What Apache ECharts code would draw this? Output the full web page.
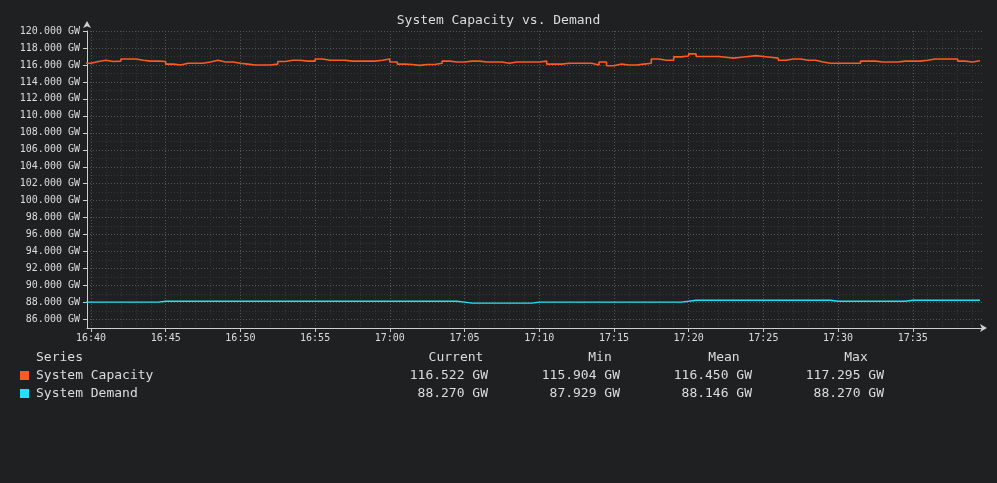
<!DOCTYPE html>
<html>
<head>
    <meta http-equiv="Content-Type" content="text/html; charset=utf-8" />
    <script type="text/javascript" src="https://cdn.jsdelivr.net/npm/echarts@6/dist/echarts.min.js"></script>
    <style>
        html, body { margin: 0; padding: 0; background: #1f2022; }
    </style>
</head>
<body>
<div id="main" style="width: 997px;height:483px;"></div>

<script type="text/javascript">
    // samples every 30 s, first one at 16:39:30
    var startTime = [16, 39, 30];
    var sampleSeconds = 30;

    var capacity = [
        116.2, 116.4, 116.55, 116.4, 116.45, 116.7, 116.7, 116.55, 116.45, 116.45,
        116.4, 116.1, 116.0, 116.2, 116.2, 116.2, 116.35, 116.55, 116.35, 116.35,
        116.2, 116.1, 116.0, 116.0, 116.0, 116.1, 116.4, 116.55, 116.55, 116.45,
        116.45, 116.7, 116.55, 116.55, 116.55, 116.45, 116.45, 116.45, 116.45, 116.55,
        116.7, 116.35, 116.1, 116.05, 115.95, 116.05, 116.05, 116.2, 116.45, 116.35,
        116.35, 116.45, 116.45, 116.35, 116.35, 116.35, 116.2, 116.35, 116.35, 116.35,
        116.35, 116.45, 116.1, 116.1, 116.2, 116.2, 116.2, 116.2, 116.0, 116.35,
        115.9, 116.1, 116.0, 116.0, 116.1, 116.2, 116.7, 116.55, 116.55, 116.95,
        117.05, 117.3, 117.0, 117.0, 117.0, 116.9, 116.8, 116.9, 117.0, 117.1,
        117.0, 116.9, 116.8, 116.55, 116.7, 116.7, 116.55, 116.55, 116.35, 116.2,
        116.2, 116.2, 116.2, 116.2, 116.45, 116.45, 116.35, 116.35, 116.35, 116.45,
        116.45, 116.45, 116.55, 116.7, 116.7, 116.7, 116.7, 116.45, 116.35, 116.5,
        116.5
    ];

    var demand = [
        88.05, 88.05, 88.05, 88.05, 88.05, 88.05, 88.05, 88.05, 88.05, 88.05,
        88.15, 88.15, 88.15, 88.15, 88.15, 88.15, 88.15, 88.15, 88.15, 88.15,
        88.15, 88.15, 88.15, 88.15, 88.15, 88.15, 88.15, 88.15, 88.15, 88.15,
        88.15, 88.15, 88.15, 88.15, 88.15, 88.15, 88.15, 88.15, 88.15, 88.15,
        88.15, 88.15, 88.15, 88.15, 88.15, 88.15, 88.15, 88.15, 88.15, 88.15,
        88.05, 87.93, 87.93, 87.93, 87.93, 87.93, 87.93, 87.93, 87.93, 87.93,
        88.05, 88.05, 88.05, 88.05, 88.05, 88.05, 88.05, 88.05, 88.05, 88.05,
        88.05, 88.05, 88.05, 88.05, 88.05, 88.05, 88.05, 88.05, 88.05, 88.05,
        88.15, 88.27, 88.27, 88.27, 88.27, 88.27, 88.27, 88.27, 88.27, 88.27,
        88.27, 88.27, 88.27, 88.27, 88.27, 88.27, 88.27, 88.27, 88.27, 88.27,
        88.15, 88.15, 88.15, 88.15, 88.15, 88.15, 88.15, 88.15, 88.15, 88.15,
        88.27, 88.27, 88.27, 88.27, 88.27, 88.27, 88.27, 88.27, 88.27, 88.27,
        88.27
    ];

    var seriesNames = ['System Capacity', 'System Demand'];
    var seriesColors = ['#ff5a1f', '#1fe3fa'];

    // summary table as printed under the chart
    var statHeaders = ['Current', 'Min', 'Mean', 'Max'];
    var statCurrent = ['116.522 GW', '88.270 GW'];
    var statMin = ['115.904 GW', '87.929 GW'];
    var statMean = ['116.450 GW', '88.146 GW'];
    var statMax = ['117.295 GW', '88.270 GW'];

    var xTickLabels = ['16:40', '16:45', '16:50', '16:55', '17:00', '17:05',
                       '17:10', '17:15', '17:20', '17:25', '17:30', '17:35'];
    var yLabelValues = [86, 88, 90, 92, 94, 96, 98, 100, 102, 104, 106, 108, 110, 112, 114, 116, 118, 120];

    function t(h, m, s) {
        return new Date(2024, 0, 1, h, m, s).getTime();
    }

    function toPairs(values) {
        var t0 = t(startTime[0], startTime[1], startTime[2]);
        var out = [];
        for (var i = 0; i < values.length; i++) {
            out.push([t0 + i * sampleSeconds * 1000, values[i]]);
        }
        return out;
    }

    var xMin = t(16, 39, 44);
    var xMax = t(17, 39, 46);

    // label positions from the tick labels
    var xLabelTimes = xTickLabels.map(function (s) {
        var p = s.split(':');
        return t(+p[0], +p[1], 0);
    });
    // one grid line per minute (every 5th one brighter)
    var minuteLines = [];
    for (var m = 0; m < 60; m++) {
        minuteLines.push(xLabelTimes[0] + m * 60000);
    }

    function pad(n) { return n < 10 ? '0' + n : '' + n; }

    var font = 'DejaVu Sans Mono';
    var textColor = '#dcdcdc';
    var axisColor = '#cfcfcf';
    var majorGrid = '#565656';
    var minorGrid = '#363636';

    // table under the chart
    var graphics = [];
    var headerX = [456, 600, 724, 856];
    var colRight = [488, 620, 752, 884];
    var statCols = [statCurrent, statMin, statMean, statMax];
    graphics.push({
        type: 'text', x: 36, y: 351,
        style: { text: 'Series', fill: textColor, font: '13px ' + font }
    });
    for (var c = 0; c < statHeaders.length; c++) {
        graphics.push({
            type: 'text', x: headerX[c], y: 351,
            style: { text: statHeaders[c], fill: textColor, font: '13px ' + font, align: 'center' }
        });
    }
    for (var r = 0; r < seriesNames.length; r++) {
        var rowY = 369 + r * 18;
        graphics.push({
            type: 'rect', shape: { x: 20, y: rowY + 2, width: 9, height: 9 },
            style: { fill: seriesColors[r] }
        });
        graphics.push({
            type: 'text', x: 36, y: rowY,
            style: { text: seriesNames[r], fill: textColor, font: '13px ' + font }
        });
        for (var c2 = 0; c2 < statCols.length; c2++) {
            graphics.push({
                type: 'text', x: colRight[c2], y: rowY,
                style: { text: statCols[c2][r], fill: textColor, font: '13px ' + font, align: 'right' }
            });
        }
    }

    var myChart = echarts.init(document.getElementById('main'));

    var option = {
        backgroundColor: '#1f2022',
        animation: false,
        title: {
            text: 'System Capacity vs. Demand',
            left: 'center',
            top: 9,
            textStyle: { color: textColor, fontFamily: font, fontSize: 13, fontWeight: 'normal' }
        },
        grid: { left: 87, top: 31, width: 897, height: 297, containLabel: false },
        xAxis: [
            {
                // grid lines only
                type: 'value',
                position: 'bottom',
                min: xMin,
                max: xMax,
                axisLine: { show: false },
                axisTick: { show: false, customValues: minuteLines },
                axisLabel: { show: false, customValues: minuteLines },
                splitLine: {
                    show: true,
                    lineStyle: { color: [majorGrid, minorGrid, minorGrid, minorGrid, minorGrid], type: [1, 2] }
                }
            },
            {
                type: 'value',
                position: 'bottom',
                min: xMin,
                max: xMax,
                axisLine: {
                    show: true,
                    lineStyle: { color: axisColor, width: 1 },
                    symbol: ['none', 'arrow'],
                    symbolSize: [6, 7],
                    symbolOffset: [0, 3]
                },
                axisTick: { show: true, length: 4, customValues: xLabelTimes, lineStyle: { color: axisColor } },
                axisLabel: {
                    color: textColor, fontFamily: font, fontSize: 10, margin: 5,
                    customValues: xLabelTimes,
                    hideOverlap: false,
                    formatter: function (v) {
                        var d = new Date(v);
                        return pad(d.getHours()) + ':' + pad(d.getMinutes());
                    }
                },
                splitLine: { show: false }
            }
        ],
        yAxis: [
            {
                // grid lines only: 85 minor, 86 major, ...
                type: 'value',
                min: 85,
                max: 120,
                interval: 1,
                axisLine: { show: false },
                axisTick: { show: false },
                axisLabel: { show: false },
                splitLine: {
                    show: true,
                    lineStyle: { color: [minorGrid, majorGrid], type: [1, 2] }
                }
            },
            {
                type: 'value',
                position: 'left',
                min: 85,
                max: 120,
                interval: 1,
                axisLine: {
                    show: true,
                    lineStyle: { color: axisColor, width: 1 },
                    symbol: ['none', 'arrow'],
                    symbolSize: [6, 7],
                    symbolOffset: [0, 10]
                },
                axisTick: { show: true, length: 4, customValues: yLabelValues, lineStyle: { color: axisColor } },
                axisLabel: {
                    color: textColor, fontFamily: font, fontSize: 10, margin: 7,
                    customValues: yLabelValues,
                    formatter: function (v) { return v.toFixed(3) + ' GW'; }
                },
                splitLine: { show: false }
            }
        ],
        series: [
            {
                name: seriesNames[0],
                type: 'line',
                step: 'end',
                showSymbol: false,
                data: toPairs(capacity),
                lineStyle: { color: seriesColors[0], width: 1.6 },
                itemStyle: { color: seriesColors[0] }
            },
            {
                name: seriesNames[1],
                type: 'line',
                step: 'end',
                showSymbol: false,
                data: toPairs(demand),
                lineStyle: { color: seriesColors[1], width: 1.4 },
                itemStyle: { color: seriesColors[1] }
            }
        ],
        graphic: graphics
    };

    myChart.setOption(option);
</script>
</body>
</html>
